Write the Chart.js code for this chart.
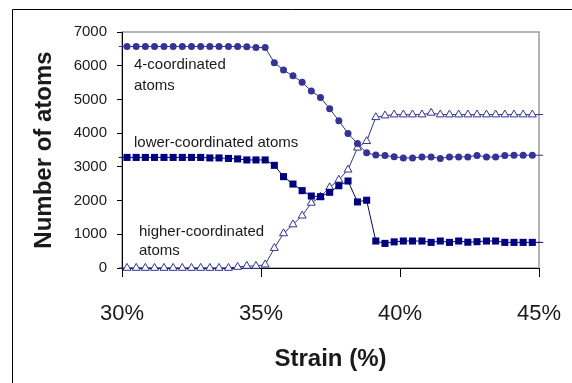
<!DOCTYPE html>
<html>
<head>
<meta charset="utf-8">
<script src="https://cdn.jsdelivr.net/npm/chart.js@4/dist/chart.umd.min.js"></script>
<style>
  body { margin: 0; background: #fff; }
  canvas { display: block; }
</style>
</head>
<body>
<canvas id="chart" width="572" height="383"></canvas>
<script>
// strain (%) of each sample
const strain = [30.18, 30.51, 30.84, 31.17, 31.51, 31.84, 32.17, 32.50, 32.83, 33.16,
  33.49, 33.83, 34.16, 34.49, 34.82, 35.15, 35.48, 35.81, 36.15, 36.48,
  36.81, 37.14, 37.47, 37.80, 38.13, 38.47, 38.80, 39.13, 39.46, 39.79,
  40.12, 40.45, 40.79, 41.12, 41.45, 41.78, 42.11, 42.44, 42.77, 43.11,
  43.44, 43.77, 44.10, 44.43, 44.76];

const fourCoord = [6570, 6570, 6570, 6570, 6570, 6570, 6570, 6570, 6570, 6570,
  6570, 6570, 6570, 6560, 6540, 6540, 6090, 5870, 5700, 5510,
  5250, 5060, 4720, 4370, 3990, 3690, 3415, 3350, 3335, 3300,
  3265, 3260, 3295, 3295, 3250, 3295, 3295, 3295, 3340, 3295,
  3290, 3340, 3345, 3345, 3345];

const lowerCoord = [3280, 3280, 3280, 3280, 3280, 3280, 3280, 3280, 3280, 3265,
  3265, 3250, 3235, 3205, 3205, 3205, 3045, 2710, 2490, 2295,
  2135, 2115, 2245, 2440, 2580, 1960, 2010, 800, 730, 775,
  800, 800, 800, 760, 800, 760, 800, 765, 780, 800,
  800, 760, 760, 760, 760];

const higherCoord = [0, 0, 0, 0, 0, 0, 0, 0, 0, 0,
  0, 0, 30, 60, 60, 100, 590, 1025, 1290, 1550,
  1930, 2110, 2390, 2615, 2915, 3565, 3760, 4470, 4520, 4550,
  4550, 4550, 4550, 4600, 4550, 4550, 4550, 4550, 4550, 4550,
  4550, 4550, 4550, 4550, 4550];

// the lines run a little past the first and last markers
const lineEnds = [29.88, 45.15];

const xTicks = [30, 35, 40, 45];
const yTicks = [0, 1000, 2000, 3000, 4000, 5000, 6000, 7000];

const notes = [
  { text: "4-coordinated", x: 134, y: 65 },
  { text: "atoms", x: 134, y: 86 },
  { text: "lower-coordinated atoms", x: 134, y: 143 },
  { text: "higher-coordinated", x: 139, y: 232 },
  { text: "atoms", x: 139, y: 251 }
];

const FONT = "'Liberation Sans', Arial, sans-serif";

function toPoints(vals) {
  const pts = strain.map((x, i) => ({ x: x, y: vals[i] }));
  pts.unshift({ x: lineEnds[0], y: vals[0] });
  pts.push({ x: lineEnds[1], y: vals[vals.length - 1] });
  return pts;
}

function markerSize(r) {
  return (ctx) => (ctx.dataIndex === 0 || ctx.dataIndex === strain.length + 1) ? 0 : r;
}

const frame = {
  id: "frame",
  beforeDraw(chart) {
    const { ctx, chartArea: a } = chart;
    ctx.save();
    // outer box of the figure
    ctx.strokeStyle = "#000";
    ctx.lineWidth = 1;
    ctx.beginPath();
    ctx.moveTo(12.5, 400);
    ctx.lineTo(12.5, 9.5);
    ctx.lineTo(600, 9.5);
    ctx.stroke();
    // grey plot-area border
    ctx.strokeStyle = "#9a9a9a";
    ctx.lineWidth = 1.5;
    ctx.strokeRect(a.left, a.top, a.right - a.left, a.bottom - a.top);
    ctx.restore();
  },
  afterDraw(chart) {
    const ctx = chart.ctx;
    ctx.save();
    ctx.fillStyle = "#1a1a1a";
    ctx.font = "15px " + FONT;
    ctx.textBaseline = "middle";
    ctx.textAlign = "left";
    notes.forEach(n => ctx.fillText(n.text, n.x, n.y));
    ctx.restore();
  }
};

new Chart(document.getElementById("chart").getContext("2d"), {
  type: "line",
  data: {
    datasets: [
      {
        label: "4-coordinated atoms",
        data: toPoints(fourCoord),
        borderColor: "#33339a",
        backgroundColor: "#33339a",
        borderWidth: 1,
        pointStyle: "circle",
        pointRadius: markerSize(3.5),
        pointBorderWidth: 0,
        clip: false
      },
      {
        label: "lower-coordinated atoms",
        data: toPoints(lowerCoord),
        borderColor: "#000080",
        backgroundColor: "#000080",
        borderWidth: 1,
        pointStyle: "rect",
        pointRadius: markerSize(5),
        pointBorderWidth: 0,
        clip: false
      },
      {
        label: "higher-coordinated atoms",
        data: toPoints(higherCoord),
        borderColor: "#33339a",
        backgroundColor: "#ffffff",
        pointBackgroundColor: "#ffffff",
        pointBorderColor: "#33339a",
        borderWidth: 1,
        pointStyle: "triangle",
        pointRadius: markerSize(4.6),
        pointBorderWidth: 1,
        clip: false
      }
    ]
  },
  options: {
    responsive: false,
    animation: false,
    devicePixelRatio: 1,
    layout: { padding: { top: 32, right: 33, left: 0, bottom: 0 } },
    plugins: {
      legend: { display: false },
      tooltip: { enabled: false }
    },
    scales: {
      x: {
        type: "linear",
        min: 30,
        max: 45,
        afterFit: (s) => { s.height = 115; s.paddingLeft = 0; s.paddingRight = 0; },
        afterBuildTicks: (s) => { s.ticks = xTicks.map(v => ({ value: v })); },
        ticks: {
          padding: 24,
          color: "#1a1a1a",
          font: { family: FONT, size: 22 },
          callback: (v) => v + "%"
        },
        grid: { drawOnChartArea: false, drawTicks: true, tickLength: 9, color: "#000", lineWidth: 1 },
        border: { display: true, color: "#000", width: 1 },
        title: {
          display: true,
          text: "Strain (%)",
          color: "#1a1a1a",
          font: { family: FONT, size: 24, weight: "bold", lineHeight: 1 },
          padding: { top: 0, bottom: 12 }
        }
      },
      y: {
        min: 0,
        max: 7000,
        afterFit: (s) => { s.width = 122; s.paddingTop = 0; s.paddingBottom = 0; },
        afterBuildTicks: (s) => { s.ticks = yTicks.map(v => ({ value: v })); },
        ticks: {
          padding: 10,
          color: "#1a1a1a",
          font: { family: FONT, size: 15 },
          callback: (v) => String(v)
        },
        grid: { drawOnChartArea: false, drawTicks: true, tickLength: 5, color: "#000", lineWidth: 1 },
        border: { display: true, color: "#000", width: 1 },
        title: {
          display: true,
          text: "Number of atoms",
          color: "#1a1a1a",
          font: { family: FONT, size: 24, weight: "bold", lineHeight: 1 },
          padding: { top: 32, bottom: 0 }
        }
      }
    }
  },
  plugins: [frame]
});
</script>
</body>
</html>
